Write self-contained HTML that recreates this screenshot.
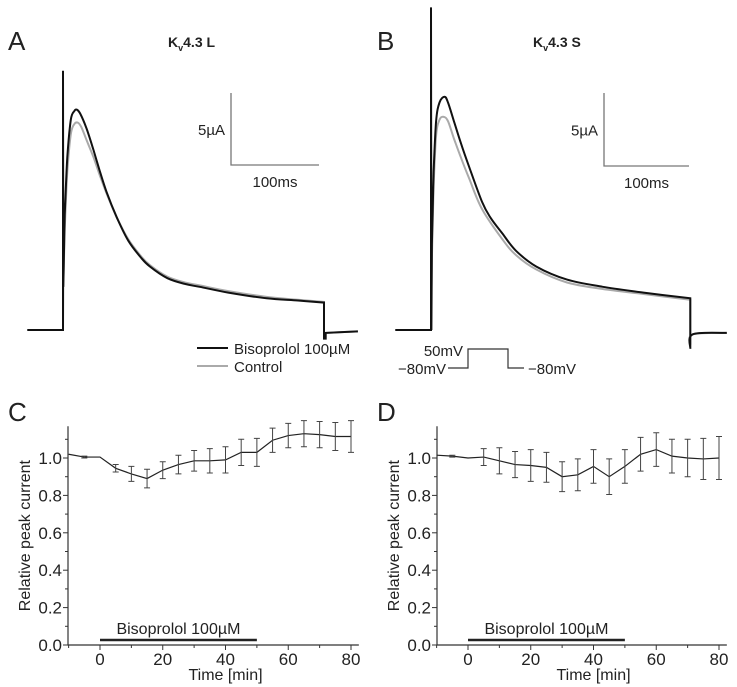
<!DOCTYPE html>
<html><head><meta charset="utf-8"><style>
html,body{margin:0;padding:0;background:#fff;}
svg{display:block;font-family:"Liberation Sans",sans-serif;}
</style></head><body>
<svg id="fig" width="737" height="687" viewBox="0 0 737 687">
<g id="gA"></g>
<g id="gB"></g>
<g id="gC"></g>
<g id="gD"></g>
</svg>
<script>
// ---- trace data (time ms, current µA) ----
const aBlackT=[-41,0,0,0.4,2,5,9,13,16,20,27,35,42,50,62,75,90,100,120,140,157,190,234,270,300,300,302,302,339];
const aBlackI=[0,0,18,3,8,12,14.6,15.2,15.3,15,14,12.5,11.1,9.6,7.8,6.2,5.0,4.4,3.6,3.2,3.0,2.6,2.2,2.05,1.9,-0.6,-0.6,-0.2,-0.1];
const aGreyT=[-41,0,0.4,2,5,9,13,17,21,27,35,42,50,62,75,90,100,120,140,157,190,234,270,300,300,302,339];
const aGreyI=[0,0,3,7,11,13.6,14.3,14.4,14.1,13.2,12,10.8,9.5,7.8,6.3,5.1,4.5,3.7,3.3,3.1,2.7,2.3,2.1,1.95,-0.3,-0.2,-0.1];
const bBlackT=[-42,0,0,0.5,1,3,6,10,16,20,27,35,45,60,70,84,100,124,160,202,250,305,305,308,348];
const bBlackI=[0,0,22.4,0,6,11,14.5,15.8,16.2,15.8,14.5,13,11.3,8.9,7.8,6.7,5.5,4.4,3.5,3.0,2.6,2.2,-1.3,-0.3,-0.2];
const bGreyT=[-42,0,0.5,1,3,6,10,15,20,27,35,45,60,84,100,124,160,202,250,305,305,308,348];
const bGreyI=[0,0,2.4,5,10,13.5,14.6,14.8,14.5,13.3,12,10.5,8.4,6.3,5.2,4.2,3.3,2.85,2.5,2.1,-1,-0.3,-0.2];
// ---- time course data ----
const times=[-10,-5,0,5,10,15,20,25,30,35,40,45,50,55,60,65,70,75,80];
const cMean=[1.02,1.005,1.005,0.945,0.915,0.89,0.935,0.965,0.985,0.985,0.99,1.03,1.03,1.095,1.12,1.13,1.125,1.115,1.115];
const cErr=[0,0.005,0,0.02,0.04,0.05,0.045,0.05,0.055,0.065,0.07,0.07,0.075,0.065,0.065,0.07,0.07,0.075,0.085];
const dMean=[1.015,1.01,1.0,1.005,0.985,0.965,0.96,0.95,0.9,0.91,0.955,0.9,0.955,1.02,1.045,1.01,1.0,0.995,1.0];
const dErr=[0,0.005,0,0.045,0.07,0.07,0.085,0.08,0.08,0.085,0.09,0.095,0.09,0.09,0.09,0.09,0.1,0.11,0.115];
const yTicks=[0.0,0.2,0.4,0.6,0.8,1.0];
const xTicks=[0,20,40,60,80];

const NS="http://www.w3.org/2000/svg";
function mk(p,tag,attrs,txt){const e=document.createElementNS(NS,tag);for(const k in attrs)e.setAttribute(k,attrs[k]);if(txt!==undefined)e.textContent=txt;p.appendChild(e);return e;}

function smoothPath(P){
  let d="M"+P[0][0].toFixed(1)+","+P[0][1].toFixed(1);
  const runs=[];let cur=[P[0]];
  for(let k=1;k<P.length;k++){
    if(P[k][0]-P[k-1][0]<2.5){runs.push(cur);cur=[P[k]];}
    else cur.push(P[k]);
  }
  runs.push(cur);
  runs.forEach((r,ri)=>{
    if(ri>0)d+="L"+r[0][0].toFixed(1)+","+r[0][1].toFixed(1);
    for(let i=0;i<r.length-1;i++){
      const p0=r[Math.max(0,i-1)],p1=r[i],p2=r[i+1],p3=r[Math.min(r.length-1,i+2)];
      const c1=[p1[0]+(p2[0]-p0[0])/6,p1[1]+(p2[1]-p0[1])/6];
      const c2=[p2[0]-(p3[0]-p1[0])/6,p2[1]-(p3[1]-p1[1])/6];
      d+=`C${c1[0].toFixed(1)},${c1[1].toFixed(1)} ${c2[0].toFixed(1)},${c2[1].toFixed(1)} ${p2[0].toFixed(1)},${p2[1].toFixed(1)}`;
    }
  });
  return d;
}
function tracePanel(g,x0,base,pxms,pxua,bT,bI,gT,gI){
  const sx=t=>x0+t*pxms, sy=i=>base-i*pxua;
  const pts=(T,I)=>T.map((t,k)=>[sx(t),sy(I[k])]);
  const pg=mk(g,"path",{d:smoothPath(pts(gT,gI)),fill:"none",stroke:"#aaa","stroke-width":2});
  
  
  const pb=mk(g,"path",{d:smoothPath(pts(bT,bI)),fill:"none",stroke:"#111","stroke-width":2});
  
  
}
function scaleBar(g,x,yTop,yBot,xEnd){
  const s=mk(g,"path",{d:`M${x},${yTop}V${yBot}H${xEnd}`,fill:"none",stroke:"#777","stroke-width":1.3});
  
  
  const t1=mk(g,"text",{x:x-6,y:(yTop+yBot)/2+6,"text-anchor":"end","font-size":15,fill:"#222"},"5µA");
  
  
  const t2=mk(g,"text",{x:(x+xEnd)/2,y:yBot+22,"text-anchor":"middle","font-size":15,fill:"#222"},"100ms");
  
  
}
function label(g,x,y,txt,name){const t=mk(g,"text",{x:x,y:y,"font-size":26,fill:"#222"},txt);
  
  }
function title(g,x,y,sub){const t=mk(g,"text",{x:x,y:y,"font-size":14,"font-weight":"bold",fill:"#222"});
  
  
  mk(t,"tspan",{},"K");mk(t,"tspan",{dy:4,"font-size":9},"v");mk(t,"tspan",{dy:-4},"4.3 "+sub);}

const A=document.getElementById("gA"),B=document.getElementById("gB");
label(A,8,50,"A","panel-label-a");title(A,168,47,"L");
tracePanel(A,63,330,0.87,14.4,aBlackT,aBlackI,aGreyT,aGreyI);
scaleBar(A,231,93,165,319);
let l1=mk(A,"line",{x1:197,y1:348,x2:228,y2:348,stroke:"#111","stroke-width":2});


let lt1=mk(A,"text",{x:234,y:354,"font-size":15,fill:"#222"},"Bisoprolol 100µM");


let l2=mk(A,"line",{x1:197,y1:366,x2:228,y2:366,stroke:"#aaa","stroke-width":2});


let lt2=mk(A,"text",{x:234,y:372,"font-size":15,fill:"#222"},"Control");



label(B,377,50,"B","panel-label-b");title(B,533,47,"S");
tracePanel(B,431,330,0.85,14.4,bBlackT,bBlackI,bGreyT,bGreyI);
scaleBar(B,604,93,166,689);
let vp=mk(B,"path",{d:"M448,368H468V349H508V368H524",fill:"none",stroke:"#333","stroke-width":1.2});


let v1=mk(B,"text",{x:463,y:356,"text-anchor":"end","font-size":15,fill:"#222"},"50mV");


let v2=mk(B,"text",{x:446,y:374,"text-anchor":"end","font-size":15,fill:"#222"},"−80mV");


let v3=mk(B,"text",{x:528,y:374,"font-size":15,fill:"#222"},"−80mV");



function timePanel(g,axX,x0,x80,mean,err,letter,lx){
  const y0=645,y1=458;
  const sx=t=>x0+(x80-x0)*t/80, sy=v=>y0+(y1-y0)*v;
  label(g,lx,421,letter,"panel-label-"+letter.toLowerCase());
  const ax=mk(g,"path",{d:`M${axX},${sy(1.17)}V${y0}H${sx(82.5)}`,fill:"none",stroke:"#333","stroke-width":1.2});
  
  
  for(let v=0;v<=1.15;v+=0.1){const major=Math.abs(v*5-Math.round(v*5))<1e-6;
    const tk=mk(g,"line",{x1:axX,x2:axX-(major?5:3),y1:sy(v),y2:sy(v),stroke:"#333","stroke-width":1});
    
    }
  yTicks.forEach(v=>{const t=mk(g,"text",{x:axX-6,y:sy(v)+6,"text-anchor":"end","font-size":17,fill:"#222"},v.toFixed(1));
    
    });
  for(let t=-10;t<=80;t+=10){const major=t%20===0;
    const tk=mk(g,"line",{x1:sx(t),x2:sx(t),y1:y0,y2:y0+(major?5:3),stroke:"#333","stroke-width":1});
    
    }
  xTicks.forEach(t=>{const e=mk(g,"text",{x:sx(t),y:y0+20,"text-anchor":"middle","font-size":17,fill:"#222"},t);
    
    });
  const xt=mk(g,"text",{x:(sx(0)+sx(80))/2,y:y0+35,"text-anchor":"middle","font-size":16,fill:"#222"},"Time [min]");
  
  
  const cy=(sy(0)+sy(1.17))/2;
  const yt=mk(g,"text",{x:axX-38,y:cy,"text-anchor":"middle","font-size":16,fill:"#222",transform:`rotate(-90 ${axX-38} ${cy})`},"Relative peak current");
  
  
  const bar=mk(g,"line",{x1:sx(0),x2:sx(50),y1:y0-5,y2:y0-5,stroke:"#222","stroke-width":2.5});
  
  
  const bt=mk(g,"text",{x:sx(25),y:y0-11,"text-anchor":"middle","font-size":16,fill:"#222"},"Bisoprolol 100µM");
  
  
  const ln=mk(g,"polyline",{points:times.map((t,k)=>sx(t)+","+sy(mean[k])).join(" "),fill:"none",stroke:"#222","stroke-width":1.2});
  
  
  times.forEach((t,k)=>{if(err[k]<=0)return;const x=sx(t),a=sy(mean[k]+err[k]),b=sy(mean[k]-err[k]);
    const e=mk(g,"path",{d:`M${x},${a}V${b}M${x-3},${a}H${x+3}M${x-3},${b}H${x+3}`,fill:"none",stroke:"#444","stroke-width":1});
    
    });
}
timePanel(document.getElementById("gC"),68,100,351,cMean,cErr,"C",8);
timePanel(document.getElementById("gD"),437,468,719,dMean,dErr,"D",377);
</script>
</body></html>
